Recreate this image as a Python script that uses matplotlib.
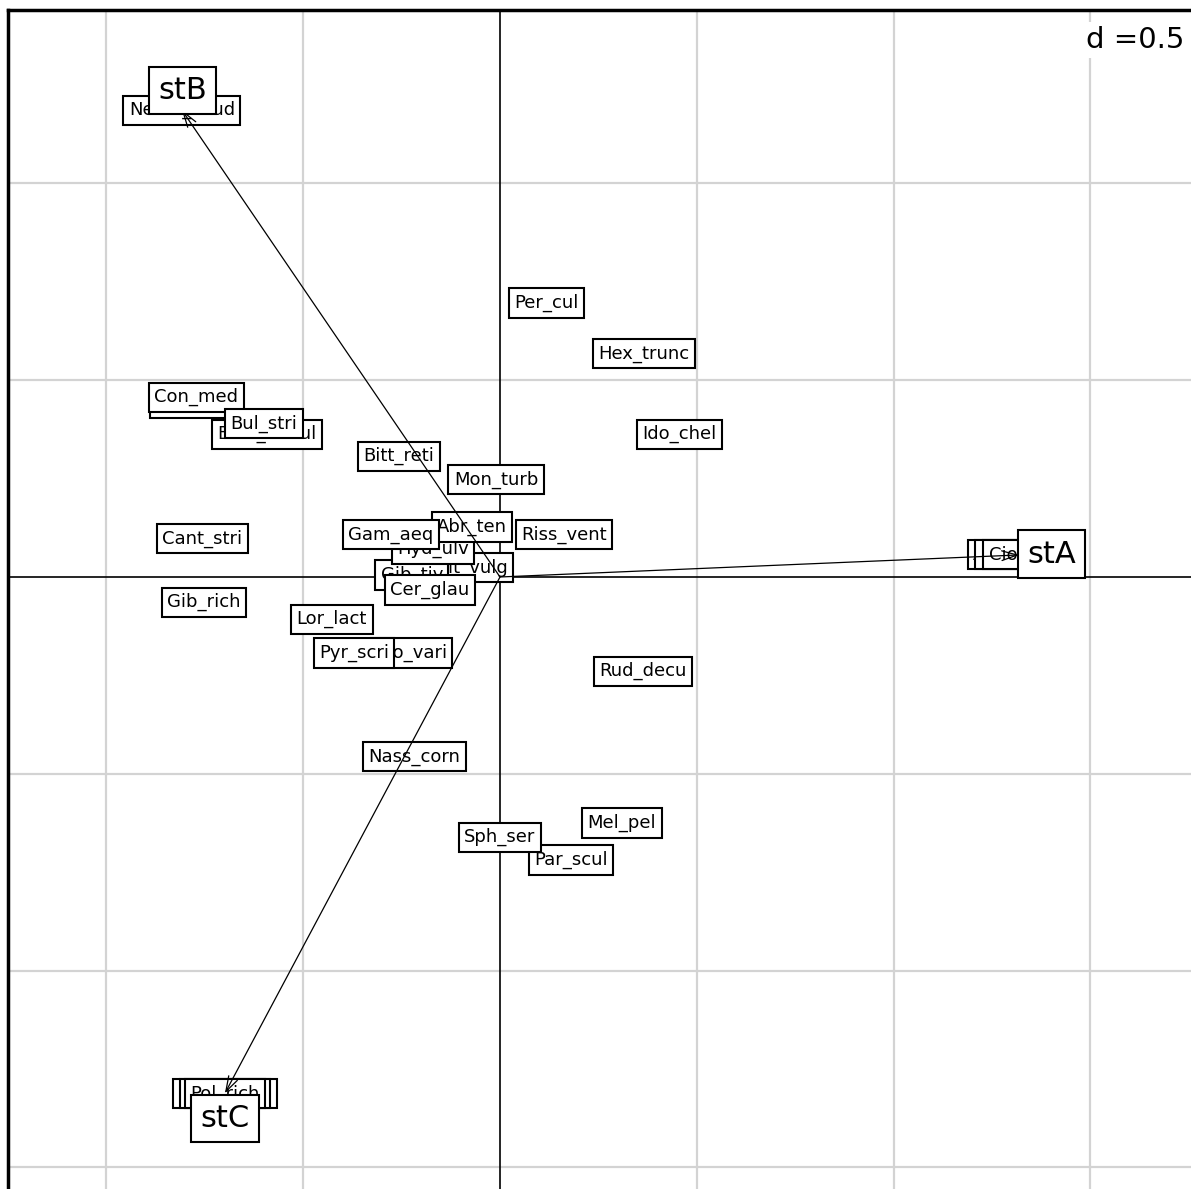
import numpy as np
import matplotlib
matplotlib.use('Agg')
import matplotlib.pyplot as plt

# species scores (column coordinates)
species = ['Chl_glab', 'Con_med', 'Bela_nebul', 'Bul_stri', 'Per_cul', 'Hex_trunc',
           'Ido_chel', 'Bitt_reti', 'Mon_turb', 'Riss_vent', 'Cant_stri',
           'Lit_vulg', 'Gib_tiv', 'Hyd_ulv', 'Abr_ten', 'Gam_aeq', 'Cer_glau',
           'Gib_rich', 'Lor_lact', 'Tro_vari', 'Pyr_scri', 'Rud_decu',
           'Nass_corn', 'Mel_pel', 'Par_scul', 'Sph_ser', 'Neam_caud',
           'Mact_stult', 'Nucu_nit', 'Pol_rich',
           'Abra_nitid', 'Cyc_neri', 'Cio_int']
sp_x = [-0.777, -0.772, -0.592, -0.600, 0.119, 0.366,
        0.455, -0.257, -0.010, 0.163, -0.757,
        -0.069, -0.224, -0.170, -0.071, -0.277, -0.178,
        -0.752, -0.427, -0.224, -0.371, 0.363,
        -0.218, 0.310, 0.180, 0.000, -0.808,
        -0.699, -0.699, -0.699,
        1.319, 1.319, 1.319]
sp_y = [0.442, 0.457, 0.363, 0.389, 0.696, 0.567,
        0.363, 0.307, 0.248, 0.107, 0.097,
        0.024, 0.005, 0.071, 0.127, 0.107, -0.033,
        -0.064, -0.107, -0.193, -0.193, -0.239,
        -0.457, -0.625, -0.719, -0.661, 1.186,
        -1.312, -1.312, -1.312,
        0.056, 0.056, 0.056]

# stations (row coordinates): arrow tips and label positions
stations = ['stA', 'stB', 'stC']
st_x = [1.319, -0.808, -0.699]
st_y = [0.056, 1.186, -1.312]
st_lab_x = [1.402, -0.807, -0.699]
st_lab_y = [0.058, 1.236, -1.376]

grid_x = [-1.0, -0.5, 0.5, 1.0, 1.5]
grid_y = [-1.5, -1.0, -0.5, 0.5, 1.0]

W, H = 1191, 1189
fig = plt.figure(figsize=(W/100., H/100.), dpi=100)
ax = fig.add_axes([8./W, 0, 1 - 8./W, 1 - 10./H])
ax.set_xlim(-1.250, 1.7556)
ax.set_ylim(-1.5549, 1.4405)

for g in grid_x:
    ax.axvline(g, color='#d3d3d3', lw=1.6, zorder=0.5)
for g in grid_y:
    ax.axhline(g, color='#d3d3d3', lw=1.6, zorder=0.5)
ax.axvline(0, color='black', lw=1.2, zorder=1)
ax.axhline(0, color='black', lw=1.2, zorder=1)

for i, (name, x, y) in enumerate(zip(species, sp_x, sp_y)):
    ax.text(x, y, name, ha='center', va='center', fontsize=13, zorder=2 + i*0.01,
            bbox=dict(boxstyle='square,pad=0.3', fc='white', ec='black', lw=1.5))

for x, y in zip(st_x, st_y):
    ax.annotate('', xy=(x, y), xytext=(0, 0), zorder=5,
                arrowprops=dict(arrowstyle='->,head_length=1.1,head_width=0.35',
                                color='black', lw=0.9, shrinkA=0, shrinkB=0))

for name, x, y in zip(stations, st_lab_x, st_lab_y):
    ax.text(x, y, name, ha='center', va='center', fontsize=22, zorder=6,
            bbox=dict(boxstyle='square,pad=0.3', fc='white', ec='black', lw=1.5))

ax.set_xticks([])
ax.set_yticks([])
ax.spines['right'].set_visible(False)
ax.spines['bottom'].set_visible(False)
ax.spines['top'].set_linewidth(2.5)
ax.spines['left'].set_linewidth(2.5)

fig.text(1184./W, 1 - 40./H, 'd =0.5', ha='right', va='center', fontsize=21,
         bbox=dict(boxstyle='square,pad=0.15', fc='white', ec='none'))

plt.savefig('out.png', dpi=100)
